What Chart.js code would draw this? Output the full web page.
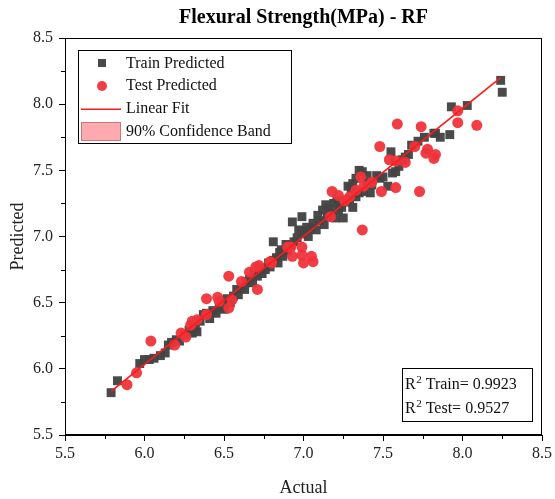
<!DOCTYPE html>
<html>
<head>
<meta charset="utf-8">
<script src="https://cdn.jsdelivr.net/npm/chart.js@4.4.1/dist/chart.umd.min.js"></script>
<style>
  html, body { margin: 0; padding: 0; background: #fff; }
  #wrap { width: 555px; height: 499px; }
</style>
</head>
<body>
<div id="wrap"><canvas id="fsChart" width="555" height="499"></canvas></div>
<script>
// values
const trainActual = [5.79, 5.83, 5.97, 6.00, 6.03, 6.06, 6.10, 6.13, 6.15, 6.17, 6.20, 6.22, 6.25, 6.28, 6.30, 6.32, 6.33, 6.35, 6.37, 6.39,
  6.41, 6.43, 6.45, 6.47, 6.49, 6.50, 6.52, 6.54, 6.56, 6.58, 6.59, 6.61, 6.63, 6.64, 6.66, 6.68, 6.69, 6.71, 6.73, 6.74,
  6.76, 6.78, 6.79, 6.81, 6.81, 6.83, 6.84, 6.85, 6.86, 6.87, 6.89, 6.90, 6.92, 6.93, 6.94, 6.96, 6.97, 6.99, 6.99, 7.01,
  7.02, 7.03, 7.05, 7.06, 7.08, 7.09, 7.10, 7.12, 7.13, 7.14, 7.15, 7.17, 7.19, 7.20, 7.22, 7.24, 7.25, 7.27, 7.29, 7.30,
  7.31, 7.31, 7.33, 7.35, 7.35, 7.37, 7.38, 7.40, 7.42, 7.43, 7.46, 7.48, 7.50, 7.53, 7.55, 7.56, 7.58, 7.60, 7.62, 7.64,
  7.66, 7.68, 7.72, 7.76, 7.82, 7.83, 7.86, 7.92, 7.93, 8.03, 8.24, 8.25, 7.16, 7.21, 7.28, 7.33, 7.40];
const trainPred = [5.82, 5.91, 6.04, 6.07, 6.07, 6.08, 6.10, 6.12, 6.18, 6.20, 6.22, 6.21, 6.26, 6.29, 6.27, 6.31, 6.28, 6.36, 6.41, 6.42,
  6.38, 6.44, 6.42, 6.46, 6.50, 6.45, 6.53, 6.50, 6.55, 6.60, 6.56, 6.62, 6.60, 6.66, 6.68, 6.65, 6.72, 6.70, 6.76, 6.72,
  6.75, 6.80, 6.77, 6.96, 6.82, 6.84, 6.80, 6.88, 6.90, 6.85, 6.94, 6.89, 6.93, 7.11, 6.96, 6.99, 7.05, 7.15, 7.02, 7.04,
  7.07, 7.00, 7.06, 7.10, 7.05, 7.16, 7.12, 7.20, 7.09, 7.24, 7.15, 7.18, 7.25, 7.14, 7.20, 7.22, 7.14, 7.26, 7.28, 7.36,
  7.40, 7.22, 7.30, 7.50, 7.33, 7.49, 7.34, 7.41, 7.33, 7.39, 7.46, 7.44, 7.45, 7.38, 7.64, 7.48, 7.49, 7.53, 7.58, 7.60,
  7.62, 7.69, 7.72, 7.75, 7.78, 7.78, 7.75, 7.77, 7.98, 7.99, 8.18, 8.09, 7.21, 7.27, 7.38, 7.44, 7.46];

const testActual = [5.89, 5.95, 6.04, 6.19, 6.23, 6.26, 6.29, 6.30, 6.33, 6.39, 6.39, 6.46, 6.47, 6.53, 6.55, 6.53, 6.61, 6.66, 6.70, 6.71,
  6.72, 6.79, 6.80, 6.90, 6.92, 6.93, 6.99, 6.99, 7.00, 7.05, 7.06, 7.17, 7.18, 7.22, 7.26, 7.29, 7.33, 7.36, 7.37, 7.38,
  7.43, 7.48, 7.49, 7.54, 7.58, 7.58, 7.59, 7.64, 7.70, 7.73, 7.74, 7.77, 7.78, 7.82, 7.83, 7.97, 7.97, 8.09];
const testPred = [5.88, 5.97, 6.21, 6.18, 6.27, 6.24, 6.33, 6.36, 6.37, 6.53, 6.41, 6.54, 6.51, 6.46, 6.52, 6.70, 6.66, 6.73, 6.77, 6.60,
  6.78, 6.81, 6.80, 6.92, 6.92, 6.85, 6.92, 6.86, 6.80, 6.85, 6.81, 7.15, 7.34, 7.31, 7.27, 7.30, 7.35, 7.45, 7.05, 7.38,
  7.41, 7.68, 7.34, 7.58, 7.57, 7.37, 7.85, 7.56, 7.68, 7.34, 7.83, 7.63, 7.66, 7.59, 7.62, 7.95, 7.86, 7.84];

const fitX = [5.79, 8.24];
const fitY = [5.83, 8.20];
const bandLow = [5.82, 8.19];
const bandHigh = [5.84, 8.21];

const axisTicks = [5.5, 6.0, 6.5, 7.0, 7.5, 8.0, 8.5];
const minorTicks = [5.75, 6.25, 6.75, 7.25, 7.75, 8.25];

const r2Train = '0.9923';
const r2Test = '0.9527';

function pairs(xs, ys) {
  return xs.map(function (x, i) { return { x: x, y: ys[i] }; });
}

const SERIF = '"Liberation Serif", "DejaVu Serif", serif';
const trainColor = 'rgba(68, 68, 68, 0.97)';
const testColor = 'rgba(239, 52, 58, 0.95)';
const fitColor = '#ff1a1a';
const bandColor = 'rgba(255, 170, 175, 0.35)';

// frame, minor ticks, titles, legend and R² box
const decorations = {
  id: 'decorations',
  afterDraw: function (chart) {
    const ctx = chart.ctx;
    const a = chart.chartArea;
    const xs = chart.scales.x, ys = chart.scales.y;
    ctx.save();

    ctx.strokeStyle = '#000';
    ctx.lineWidth = 1;
    ctx.strokeRect(a.left + 0.5, a.top + 0.5, a.right - a.left - 1, a.bottom - a.top - 1);

    ctx.beginPath();
    minorTicks.forEach(function (v) {
      const px = Math.round(xs.getPixelForValue(v)) + 0.5;
      ctx.moveTo(px, a.bottom);
      ctx.lineTo(px, a.bottom + 4);
      const py = Math.round(ys.getPixelForValue(v)) + 0.5;
      ctx.moveTo(a.left, py);
      ctx.lineTo(a.left - 4, py);
    });
    ctx.stroke();

    ctx.fillStyle = '#000';
    ctx.textAlign = 'center';
    ctx.textBaseline = 'middle';
    ctx.font = 'bold 20px ' + SERIF;
    ctx.fillText('Flexural Strength(MPa) - RF', (a.left + a.right) / 2, 18);

    ctx.fillStyle = '#222';
    ctx.font = '18px ' + SERIF;
    ctx.fillText('Actual', (a.left + a.right) / 2, 488);
    ctx.save();
    ctx.translate(18, (a.top + a.bottom) / 2);
    ctx.rotate(-Math.PI / 2);
    ctx.fillText('Predicted', 0, 0);
    ctx.restore();

    // legend
    const lx = 78, ly = 50;
    ctx.fillStyle = '#fff';
    ctx.fillRect(lx, ly, 214, 94);
    ctx.strokeStyle = '#000';
    ctx.lineWidth = 1;
    ctx.strokeRect(lx + 0.5, ly + 0.5, 213, 93);

    ctx.fillStyle = trainColor;
    ctx.fillRect(98, 59, 8, 8);
    ctx.fillStyle = testColor;
    ctx.beginPath();
    ctx.arc(102, 86, 5, 0, Math.PI * 2);
    ctx.fill();

    ctx.fillStyle = fitColor;
    ctx.fillRect(81, 108.5, 40, 1.5);

    ctx.fillStyle = 'rgba(255, 170, 175, 1)';
    ctx.fillRect(81, 122, 40, 19);
    ctx.strokeStyle = 'rgba(200, 120, 120, 1)';
    ctx.lineWidth = 1;
    ctx.strokeRect(81.5, 122.5, 39, 18);

    ctx.fillStyle = '#111';
    ctx.textAlign = 'left';
    ctx.font = '16px ' + SERIF;
    ctx.fillText('Train Predicted', 126, 64);
    ctx.fillText('Test Predicted', 126, 86);
    ctx.fillText('Linear Fit', 126, 109);
    ctx.fillText('90% Confidence Band', 126, 132);

    // R² box
    const bx = 402, by = 368;
    ctx.fillStyle = '#fff';
    ctx.fillRect(bx, by, 131, 54);
    ctx.strokeStyle = '#000';
    ctx.strokeRect(bx + 0.5, by + 0.5, 130, 53);
    ctx.fillStyle = '#111';
    [['Train= ' + r2Train, 385], ['Test= ' + r2Test, 409]].forEach(function (row) {
      let x = 405;
      ctx.font = '16px ' + SERIF;
      ctx.fillText('R', x, row[1]);
      x += ctx.measureText('R').width;
      ctx.font = '11px ' + SERIF;
      ctx.fillText('2', x + 0.5, row[1] - 5);
      x += ctx.measureText('2').width + 0.5;
      ctx.font = '16px ' + SERIF;
      ctx.fillText(' ' + row[0], x, row[1]);
    });

    ctx.restore();
  }
};

const axisCommon = {
  type: 'linear',
  min: 5.5,
  max: 8.5,
  afterBuildTicks: function (scale) {
    scale.ticks = axisTicks.map(function (v) { return { value: v }; });
  },
  grid: { drawOnChartArea: false, tickLength: 6, color: '#000', tickColor: '#000' },
  border: { display: true, color: '#000', width: 1 },
  ticks: {
    color: '#222',
    font: { family: SERIF, size: 16 },
    callback: function (value) { return Number(value).toFixed(1); }
  }
};

new Chart(document.getElementById('fsChart').getContext('2d'), {
  type: 'scatter',
  data: {
    datasets: [
      {
        label: 'Linear Fit',
        type: 'line',
        data: pairs(fitX, fitY),
        borderColor: fitColor,
        borderWidth: 1.5,
        pointRadius: 0,
        fill: false,
        order: 0
      },
      {
        label: 'Test Predicted',
        data: pairs(testActual, testPred),
        pointStyle: 'circle',
        pointRadius: 5.5,
        backgroundColor: testColor,
        borderWidth: 0,
        order: 1
      },
      {
        label: 'Train Predicted',
        data: pairs(trainActual, trainPred),
        pointStyle: 'rect',
        pointRadius: 6.3,
        backgroundColor: trainColor,
        borderWidth: 0,
        order: 2
      },
      {
        label: 'band high',
        type: 'line',
        data: pairs(fitX, bandHigh),
        borderWidth: 0,
        pointRadius: 0,
        fill: '+1',
        backgroundColor: bandColor,
        order: 3
      },
      {
        label: 'band low',
        type: 'line',
        data: pairs(fitX, bandLow),
        borderWidth: 0,
        pointRadius: 0,
        fill: false,
        order: 4
      }
    ]
  },
  options: {
    responsive: false,
    animation: false,
    layout: { padding: { top: 38, right: 11, bottom: 0, left: 0 } },
    plugins: {
      legend: { display: false },
      title: { display: false },
      tooltip: { enabled: false }
    },
    scales: {
      x: Object.assign({}, axisCommon, {
        position: 'bottom',
        ticks: Object.assign({}, axisCommon.ticks, { padding: 3 }),
        afterFit: function (scale) { scale.height = 64; }
      }),
      y: Object.assign({}, axisCommon, {
        position: 'left',
        ticks: Object.assign({}, axisCommon.ticks, { padding: 6 }),
        afterFit: function (scale) { scale.width = 65; }
      })
    }
  },
  plugins: [decorations]
});
</script>
</body>
</html>
